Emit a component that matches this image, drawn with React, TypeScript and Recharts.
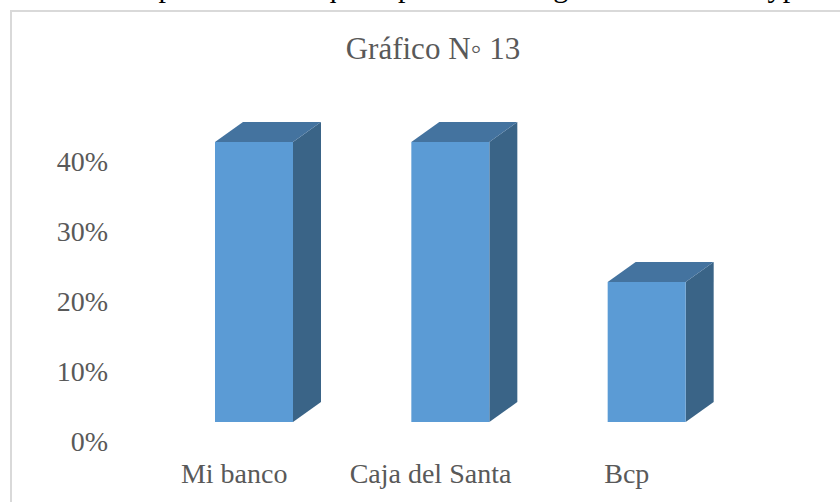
import React from 'react'
import { BarChart, Bar, XAxis, YAxis } from 'recharts'

const categories = ['Mi banco', 'Caja del Santa', 'Bcp']
const percentages = [40, 40, 20]
const yTicks = [0, 10, 20, 30, 40]

const data = categories.map((name, i) => ({ name, value: percentages[i] }))

const FONT = '"Liberation Serif", "Times New Roman", serif'
const TEXT = '#595959'

// excel-style 3d column: front face pushed back onto the floor, plus top and side faces
function Column3D(props: any) {
  const { x, y, width, height } = props
  if (width == null || height == null) return null
  const fx = x + 20
  const fy = y - 19
  const dx = 28
  const dy = 20
  const top = `${fx},${fy} ${fx + dx},${fy - dy} ${fx + width + dx},${fy - dy} ${fx + width},${fy}`
  const side = `${fx + width},${fy} ${fx + width + dx},${fy - dy} ${fx + width + dx},${fy + height - dy} ${fx + width},${fy + height}`
  return (
    <g>
      <polygon points={side} fill="#3A6487" />
      <polygon points={top} fill="#44739F" />
      <rect x={fx} y={fy} width={width} height={height} fill="#5B9BD5" />
    </g>
  )
}

export default function App() {
  return (
    <div
      style={{
        position: 'absolute',
        left: 0,
        top: 0,
        width: 840,
        height: 502,
        overflow: 'hidden',
        background: '#fff',
        fontFamily: FONT,
      }}
    >
      {/* body text line above the chart, only its descenders show in the page crop */}
      <div
        style={{
          position: 'absolute',
          left: 0,
          top: -30,
          whiteSpace: 'nowrap',
          fontSize: 30,
          color: '#000',
          letterSpacing: 0.4,
        }}
      >
        la encuesta aplicada a los que representa los gráficos de las Mypes en
      </div>
      <div
        style={{
          position: 'absolute',
          left: 10,
          top: 10,
          width: 900,
          height: 600,
          border: '2px solid #d9d9d9',
          background: '#fff',
        }}
      />
      <div
        style={{
          position: 'absolute',
          left: 0,
          width: 866,
          top: 31,
          textAlign: 'center',
          fontSize: 31,
          color: TEXT,
        }}
      >
        Gráfico N◦ 13
      </div>
      <div style={{ position: 'absolute', left: 0, top: 0 }}>
        <BarChart
          width={840}
          height={502}
          data={data}
          margin={{ top: 161, right: 115, bottom: 0, left: 0 }}
          barSize={78}
        >
          <XAxis
            dataKey="name"
            axisLine={false}
            tickLine={false}
            tickSize={0}
            tickMargin={22}
            height={61}
            interval={0}
            tick={{ fontSize: 28, fill: TEXT, fontFamily: FONT }}
          />
          <YAxis
            domain={[0, 40]}
            ticks={yTicks}
            tickFormatter={(v: number) => `${v}%`}
            axisLine={false}
            tickLine={false}
            tickSize={0}
            tickMargin={28}
            width={136}
            tick={{ fontSize: 28, fill: TEXT, fontFamily: FONT }}
          />
          <Bar dataKey="value" fill="#5B9BD5" shape={Column3D} isAnimationActive={false} />
        </BarChart>
      </div>
    </div>
  )
}
